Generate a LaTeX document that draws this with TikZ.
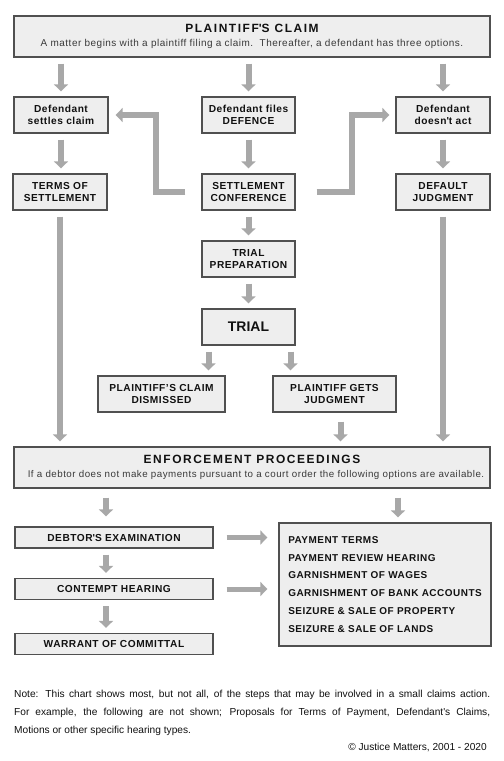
\documentclass[tikz,border=0pt]{standalone}
\usepackage{fontspec}
\usepackage{xcolor}
\usepackage{tikz}
\usetikzlibrary{arrows.meta,calc}
\setmainfont{Liberation Sans}
\newfontfamily\trackfont[LetterSpace=5]{Liberation Sans}
\newfontfamily\headfont[LetterSpace=13]{Liberation Sans}
\definecolor{boxfill}{HTML}{EEEEEE}
\definecolor{edge}{HTML}{505050}
\definecolor{flowgray}{HTML}{A8A8A8}
\definecolor{subtext}{HTML}{3A3A3A}
\definecolor{ink}{HTML}{111111}
\tikzset{
  stepbox/.style={draw=edge, fill=boxfill, line width=1.3bp, inner sep=0pt, align=center,
    minimum width=94bp, minimum height=36bp, text=ink,
    font=\trackfont\bfseries\fontsize{10.2}{12.5}\selectfont},
  widebox/.style={stepbox, minimum width=198bp, minimum height=21bp},
  banner/.style={stepbox, minimum width=476bp, minimum height=41bp,
    font=\trackfont\fontsize{10}{14.5}\selectfont},
  flow/.style={-{Triangle[width=14bp,length=7bp]}, line width=6bp, draw=flowgray,
    shorten <=6bp, shorten >=5bp},
  note/.style={font=\fontsize{10.2}{18}\selectfont, text=ink, inner sep=0pt}
}

\begin{document}
\begin{tikzpicture}[x=1bp, y=-1bp]
  \fill[white] (0,0) rectangle (504,761);

  % claim and the three options
  \node[banner] (claim) at (252,36.5)
    {{\headfont\bfseries\fontsize{12}{14.5}\selectfont PLAINTIFF\textquotesingle S CLAIM}\\
     {\color{subtext}A matter begins with a plaintiff filing a claim.\ \ Thereafter, a defendant has three options.}};
  \node[stepbox] (settle) at (61,115) {Defendant\\settles claim};
  \node[stepbox, minimum width=93bp] (defence) at (248.5,115) {Defendant files\\DEFENCE};
  \node[stepbox] (noact) at (443,115) {Defendant\\doesn\textquotesingle t act};

  \node[stepbox] (terms) at (60,192) {TERMS OF\\SETTLEMENT};
  \node[stepbox, minimum width=93bp] (conf) at (248.5,192) {SETTLEMENT\\CONFERENCE};
  \node[stepbox] (default) at (443,192) {DEFAULT\\JUDGMENT};

  % trial branch
  \node[stepbox, minimum width=93bp] (prep) at (248.5,259) {TRIAL\\PREPARATION};
  \node[stepbox, minimum width=93bp, font=\bfseries\fontsize{14}{16}\selectfont] (trial) at (248.5,327) {TRIAL};
  \node[stepbox, minimum width=127bp] (dismissed) at (161.5,394) {PLAINTIFF’S CLAIM\\DISMISSED};
  \node[stepbox, minimum width=123bp] (judgment) at (334.5,394) {PLAINTIFF GETS\\JUDGMENT};

  % enforcement
  \node[banner] (enf) at (252,467.5)
    {{\headfont\bfseries\fontsize{12}{14.5}\selectfont ENFORCEMENT PROCEEDINGS}\\
     \hspace*{8bp}{\color{subtext}\fontsize{9.8}{14.5}\selectfont If a debtor does not make payments pursuant to a court order the following options are available.}};
  \node[widebox] (debtor) at (114,537.5) {DEBTOR\textquotesingle S EXAMINATION};
  \node[widebox] (contempt) at (114,589) {CONTEMPT HEARING};
  \node[widebox] (warrant) at (114,644) {WARRANT OF COMMITTAL};
  \node[stepbox, minimum width=212bp, minimum height=123bp, align=left,
    font=\trackfont\bfseries\fontsize{10}{18}\selectfont] (options) at (385,584.5)
    {PAYMENT TERMS\\PAYMENT REVIEW HEARING\\GARNISHMENT OF WAGES\\GARNISHMENT OF BANK ACCOUNTS\\SEIZURE \& SALE OF PROPERTY\\SEIZURE \& SALE OF LANDS};

  % arrows
  \foreach \b in {settle,defence,noact}
    \draw[flow] (claim.south -| \b.north) -- (\b.north);
  \foreach \a/\b in {settle/terms,defence/conf,noact/default,conf/prep,prep/trial}
    \draw[flow] (\a.south) -- (\a.south |- \b.north);
  \draw[flow, shorten <=16bp, shorten >=7bp] (conf.west) -- ++(-45,0) |- (settle.east);
  \draw[flow, shorten <=21bp, shorten >=6bp] (conf.east) -- ++(56,0) |- (noact.west);

  \coordinate (tl) at ([xshift=-40bp]trial.south);
  \coordinate (tr) at ([xshift=42bp]trial.south);
  \draw[flow] (tl) -- (tl |- dismissed.north);
  \draw[flow] (tr) -- (tr |- judgment.north);
  \coordinate (jx) at ([xshift=6bp]judgment.south);
  \foreach \a in {terms,default}
    \draw[flow] (\a.south) -- (\a.south |- enf.north);
  \draw[flow, shorten <=9bp] (jx) -- (jx |- enf.north);

  \coordinate (dx) at ([xshift=-8bp]debtor.north);
  \coordinate (ox) at ([xshift=13bp]options.north);
  \draw[flow, shorten <=9bp, shorten >=10bp] (enf.south -| dx) -- (dx);
  \draw[flow, shorten <=9bp] (enf.south -| ox) -- (ox);
  \draw[flow] (debtor.south -| dx) -- (contempt.north -| dx);
  \draw[flow] (contempt.south -| dx) -- (warrant.north -| dx);
  \foreach \a in {debtor,contempt}
    \draw[flow, line width=5bp, shorten <=13bp, shorten >=11bp] (\a.east) -- (\a.east -| options.west);

  % note
  \node[note, anchor=north west, text width=476bp, align=justify] (note) at (14,690)
    {Note: This chart shows most, but not all, of the steps that may be involved in a small claims action.\linebreak
     For example, the following are not shown; Proposals for Terms of Payment, Defendant\textquotesingle s Claims,\linebreak
     Motions or other specific hearing types.};
  \node[note, anchor=base east] (copy) at (487,750) {© Justice Matters, 2001 - 2020};
\end{tikzpicture}
\end{document}
